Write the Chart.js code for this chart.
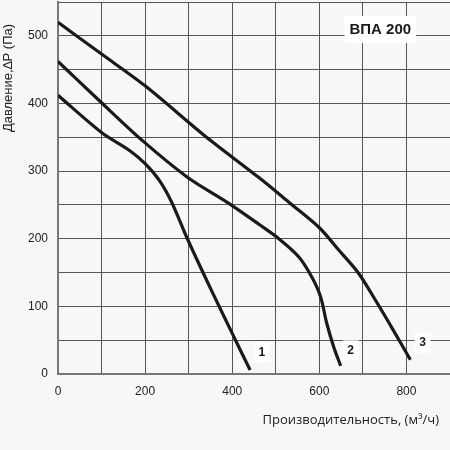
<!DOCTYPE html>
<html>
<head>
<meta charset="utf-8">
<script src="https://cdn.jsdelivr.net/npm/chart.js@4/dist/chart.umd.min.js"></script>
<style>
  html, body { margin: 0; padding: 0; background: #f7f7f7; }
  #wrap { width: 450px; height: 450px; }
</style>
</head>
<body>
<div id="wrap"><canvas id="fanChart"></canvas></div>
<script>
// curve points: [flow m3/h, pressure Pa]
const curve1 = [[0, 412], [100, 357], [165, 330], [200, 311], [233, 286], [261, 254], [297, 200], [352, 124], [400, 60], [441, 6]];
const curve2 = [[0, 462], [100, 401], [194, 345], [297, 291], [393, 252], [462, 221], [507, 200], [553, 173], [583, 143], [603, 114], [617, 75], [633, 40], [649, 12]];
const curve3 = [[0, 520], [100, 473], [200, 426], [341, 350], [462, 290], [530, 254], [599, 217], [645, 183], [690, 149], [729, 109], [766, 69], [809, 21]];
const curveNames = ['1', '2', '3'];
const xTicks = [0, 200, 400, 600, 800];
const yTicks = [0, 100, 200, 300, 400, 500];
const chartTitle = 'ВПА 200';
const xTitle = 'Производительность, (м³/ч)';
const yTitle = 'Давление,∆P (Па)';

function toPoints(arr) {
    return arr.map(p => ({ x: p[0], y: p[1] }));
}

const labelsPlugin = {
    id: 'labels',
    afterDraw(chart) {
        const ctx = chart.ctx;
        const xs = chart.scales.x;
        const ys = chart.scales.y;
        ctx.save();

        // title box
        ctx.font = 'bold 15px "Liberation Sans", Arial, sans-serif';
        let tx = xs.getPixelForValue(740);
        let ty = ys.getPixelForValue(510);
        let w = ctx.measureText(chartTitle).width;
        ctx.fillStyle = '#ffffff';
        ctx.fillRect(tx - w / 2 - 5, ty - 13, w + 10, 27);
        ctx.fillStyle = '#1a1a1a';
        ctx.textAlign = 'center';
        ctx.textBaseline = 'middle';
        ctx.fillText(chartTitle, tx, ty + 1);

        // curve numbers
        const spots = [[468, 32], [672, 35], [837, 46]];
        ctx.font = 'bold 12px "Liberation Sans", Arial, sans-serif';
        spots.forEach((s, i) => {
            const px = xs.getPixelForValue(s[0]);
            const py = ys.getPixelForValue(s[1]);
            ctx.fillStyle = '#ffffff';
            ctx.fillRect(px - 8, py - 10, 16, 20);
            ctx.fillStyle = '#1a1a1a';
            ctx.fillText(curveNames[i], px, py);
        });

        // axis titles
        ctx.font = '13px "Liberation Sans", Arial, sans-serif';
        ctx.fillStyle = '#222';
        ctx.save();
        ctx.translate(8, 78);
        ctx.rotate(-Math.PI / 2);
        ctx.fillText(yTitle, 0, 0);
        ctx.restore();

        ctx.font = '13px "Open Sans", sans-serif';
        ctx.textAlign = 'right';
        ctx.fillText(xTitle, 439, 420);
        ctx.restore();
    }
};

const ctx = document.getElementById('fanChart').getContext('2d');
const fanChart = new Chart(ctx, {
    type: 'line',
    data: {
        datasets: [curve1, curve2, curve3].map((c, i) => ({
            label: curveNames[i],
            data: toPoints(c),
            borderColor: '#1a1a1a',
            borderWidth: 3.2,
            pointRadius: 0,
            fill: false,
            tension: 0.3,
            borderCapStyle: 'butt'
        }))
    },
    options: {
        responsive: true,
        maintainAspectRatio: false,
        animation: false,
        layout: { padding: { top: 2, right: 0, left: 0, bottom: 0 } },
        plugins: {
            legend: { display: false },
            tooltip: { enabled: false }
        },
        scales: {
            x: {
                type: 'linear',
                min: 0,
                max: 900,
                afterFit: s => { s.height = 76; s.paddingRight = 0; s.paddingLeft = 0; },
                grid: { color: '#555', lineWidth: 1, drawTicks: false },
                border: { color: '#777', width: 2 },
                ticks: {
                    stepSize: 100,
                    padding: 10,
                    color: '#222',
                    font: { family: '"Liberation Sans", Arial, sans-serif', size: 12 },
                    autoSkip: false,
                    maxRotation: 0,
                    callback: v => xTicks.includes(v) ? String(v) : ''
                }
            },
            y: {
                min: 0,
                max: 550,
                afterFit: s => { s.width = 58; s.paddingTop = 0; s.paddingBottom = 0; },
                grid: { color: '#555', lineWidth: 1, drawTicks: false },
                border: { color: '#777', width: 2 },
                ticks: {
                    stepSize: 50,
                    padding: 10,
                    color: '#222',
                    font: { family: '"Liberation Sans", Arial, sans-serif', size: 12 },
                    autoSkip: false,
                    callback: v => yTicks.includes(v) ? String(v) : ''
                }
            }
        }
    },
    plugins: [labelsPlugin]
});
</script>
</body>
</html>
